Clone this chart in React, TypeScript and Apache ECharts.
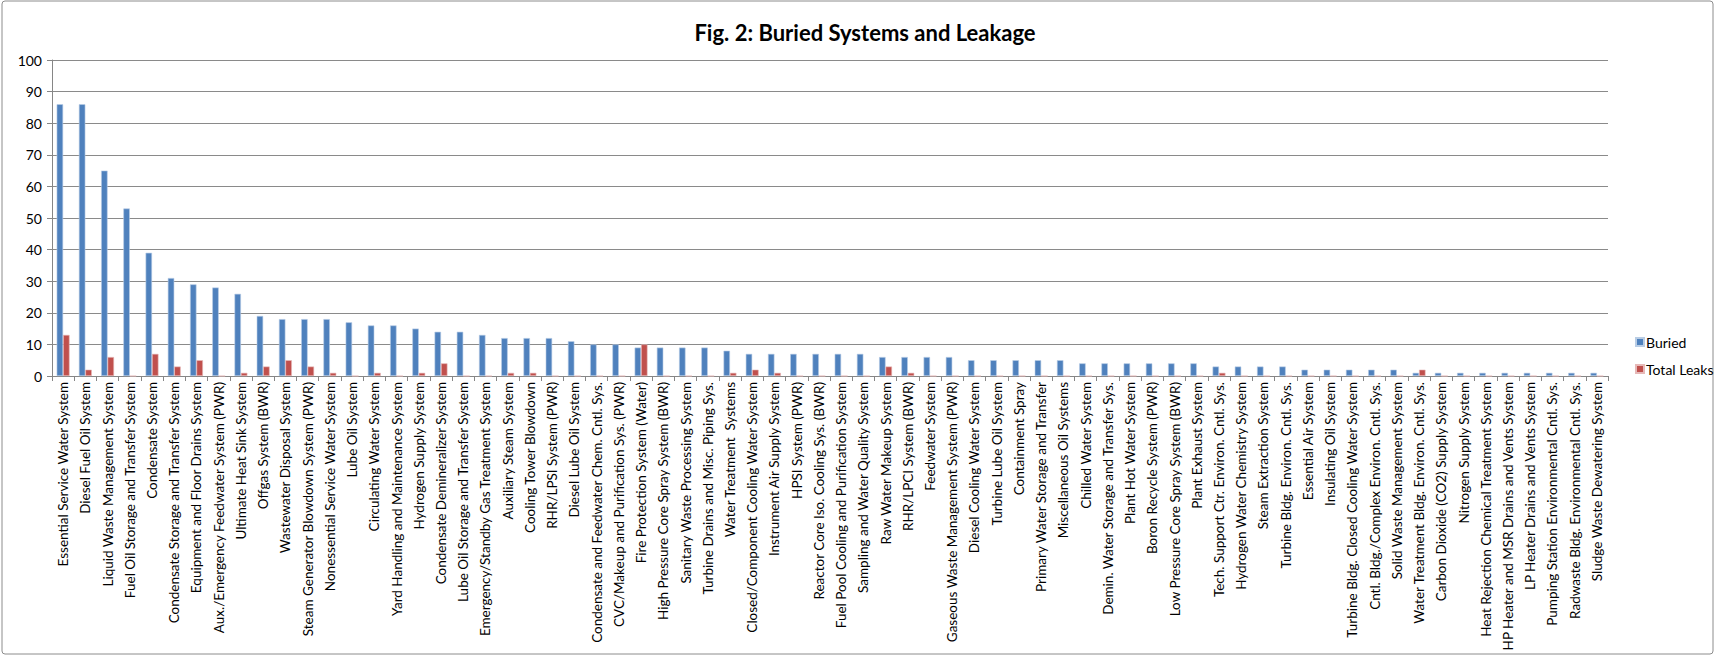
import React, { useEffect, useRef } from "react";
import * as echarts from "echarts";

const categories: string[] = [
  "Essential Service Water System",
  "Diesel Fuel Oil System",
  "Liquid Waste Management System",
  "Fuel Oil Storage and Transfer System",
  "Condensate System",
  "Condensate Storage and Transfer System",
  "Equipment and Floor Drains System",
  "Aux./Emergency Feedwater System (PWR)",
  "Ultimate Heat Sink System",
  "Offgas System (BWR)",
  "Wastewater Disposal System",
  "Steam Generator Blowdown System (PWR)",
  "Nonessential Service Water System",
  "Lube Oil System",
  "Circulating Water System",
  "Yard Handling and Maintenance System",
  "Hydrogen Supply System",
  "Condensate Demineralizer System",
  "Lube Oil Storage and Transfer System",
  "Emergency/Standby Gas Treatment System",
  "Auxiliary Steam System",
  "Cooling Tower Blowdown",
  "RHR/LPSI System (PWR)",
  "Diesel Lube Oil System",
  "Condensate and Feedwater Chem. Cntl. Sys.",
  "CVC/Makeup and Purification Sys. (PWR)",
  "Fire Protection System (Water)",
  "High Pressure Core Spray System (BWR)",
  "Sanitary Waste Processing System",
  "Turbine Drains and Misc. Piping Sys.",
  "Water Treatment  Systems",
  "Closed/Component Cooling Water System",
  "Instrument Air Supply System",
  "HPSI System (PWR)",
  "Reactor Core Iso. Cooling Sys. (BWR)",
  "Fuel Pool Cooling and Purification System",
  "Sampling and Water Quality System",
  "Raw Water Makeup System",
  "RHR/LPCI System (BWR)",
  "Feedwater System",
  "Gaseous Waste Management System (PWR)",
  "Diesel Cooling Water System",
  "Turbine Lube Oil System",
  "Containment Spray",
  "Primary Water Storage and Transfer",
  "Miscellaneous Oil Systems",
  "Chilled Water System",
  "Demin. Water Storage and Transfer Sys.",
  "Plant Hot Water System",
  "Boron Recycle System (PWR)",
  "Low Pressure Core Spray System (BWR)",
  "Plant Exhaust System",
  "Tech. Support Ctr. Environ. Cntl. Sys.",
  "Hydrogen Water Chemistry System",
  "Steam Extraction System",
  "Turbine Bldg. Environ. Cntl. Sys.",
  "Essential Air System",
  "Insulating Oil System",
  "Turbine Bldg. Closed Cooling Water System",
  "Cntl. Bldg./Complex Environ. Cntl. Sys.",
  "Solid Waste Management System",
  "Water Treatment Bldg. Environ. Cntl. Sys.",
  "Carbon Dioxide (CO2) Supply System",
  "Nitrogen Supply System",
  "Heat Rejection Chemical Treatment System",
  "HP Heater and MSR Drains and Vents System",
  "LP Heater Drains and Vents System",
  "Pumping Station Environmental Cntl. Sys.",
  "Radwaste Bldg. Environmental Cntl. Sys.",
  "Sludge Waste Dewatering System",
];

const buried: number[] = [
  86, 86, 65, 53, 39, 31, 29, 28, 26, 19,
  18, 18, 18, 17, 16, 16, 15, 14, 14, 13,
  12, 12, 12, 11, 10, 10, 9, 9, 9, 9,
  8, 7, 7, 7, 7, 7, 7, 6, 6, 6,
  6, 5, 5, 5, 5, 5, 4, 4, 4, 4,
  4, 4, 3, 3, 3, 3, 2, 2, 2, 2,
  2, 1, 1, 1, 1, 1, 1, 1, 1, 1,
];

const totalLeaks: number[] = [
  13, 2, 6, 0, 7, 3, 5, 0, 1, 3,
  5, 3, 1, 0, 1, 0, 1, 4, 0, 0,
  1, 1, 0, 0, 0, 0, 10, 0, 0, 0,
  1, 2, 1, 0, 0, 0, 0, 3, 1, 0,
  0, 0, 0, 0, 0, 0, 0, 0, 0, 0,
  0, 0, 1, 0, 0, 0, 0, 0, 0, 0,
  0, 2, 0, 0, 0, 0, 0, 0, 0, 0,
];

const yTicks = { min: 0, max: 100, interval: 10 };

const FONT = "Lato, 'Open Sans', sans-serif";

export default function App() {
  const ref = useRef<HTMLDivElement>(null);
  useEffect(() => {
    if (!ref.current) return;
    const chart = echarts.init(ref.current, null, { renderer: "svg" });
    chart.setOption({
      animation: false,
      backgroundColor: "#ffffff",
      textStyle: { fontFamily: FONT },
      title: {
        text: "Fig. 2: Buried Systems and Leakage",
        left: 860,
        top: 16,
        textAlign: "center",
        textStyle: { fontFamily: FONT, fontWeight: "bold", fontSize: 22, color: "#000" },
      },
      graphic: [
        {
          type: "rect",
          shape: { x: 2, y: 1, width: 1711, height: 653, r: 3 },
          style: { fill: "none", stroke: "#8c8c8c", lineWidth: 1 },
          silent: true,
        },
      ],
      legend: {
        orient: "vertical",
        left: 1630,
        top: 330,
        itemWidth: 8,
        itemHeight: 8,
        itemGap: 13,
        icon: "rect",
        textStyle: { fontFamily: FONT, fontSize: 14, color: "#000", padding: [0, 0, 0, -3] },
        data: ["Buried", "Total Leaks"],
      },
      grid: {
        left: 52,
        right: 107,
        top: 60,
        bottom: 282,
        containLabel: false,
        outerBoundsMode: "none",
      },
      xAxis: {
        type: "category",
        data: categories,
        axisLine: { show: true, lineStyle: { color: "#868686", width: 1 } },
        axisTick: { show: true, length: 5, lineStyle: { color: "#868686" } },
        axisLabel: {
          interval: 0,
          rotate: 90,
          fontSize: 13.5,
          color: "#000",
          fontFamily: FONT,
          margin: 6,
        },
      },
      yAxis: {
        type: "value",
        min: yTicks.min,
        max: yTicks.max,
        interval: yTicks.interval,
        axisLine: { show: true, lineStyle: { color: "#868686", width: 1 } },
        axisTick: { show: true, length: 5, lineStyle: { color: "#868686" } },
        axisLabel: { fontSize: 14, color: "#000", fontFamily: FONT, margin: 10 },
        splitLine: { show: true, lineStyle: { color: "#8a8a8a", width: 1 } },
      },
      series: [
        {
          name: "Buried",
          type: "bar",
          data: buried,
          barGap: "0%",
          barCategoryGap: "42%",
          itemStyle: { color: "#4F81BD", borderColor: "#b9cde5", borderWidth: 0.6 },
        },
        {
          name: "Total Leaks",
          type: "bar",
          data: totalLeaks,
          itemStyle: { color: "#C0504D", borderColor: "#e6b9b8", borderWidth: 0.6 },
        },
      ],
    });
    return () => chart.dispose();
  }, []);
  return (
    <div
      ref={ref}
      style={{ position: "fixed", left: 0, top: 0, width: 1715, height: 658 }}
    />
  );
}
